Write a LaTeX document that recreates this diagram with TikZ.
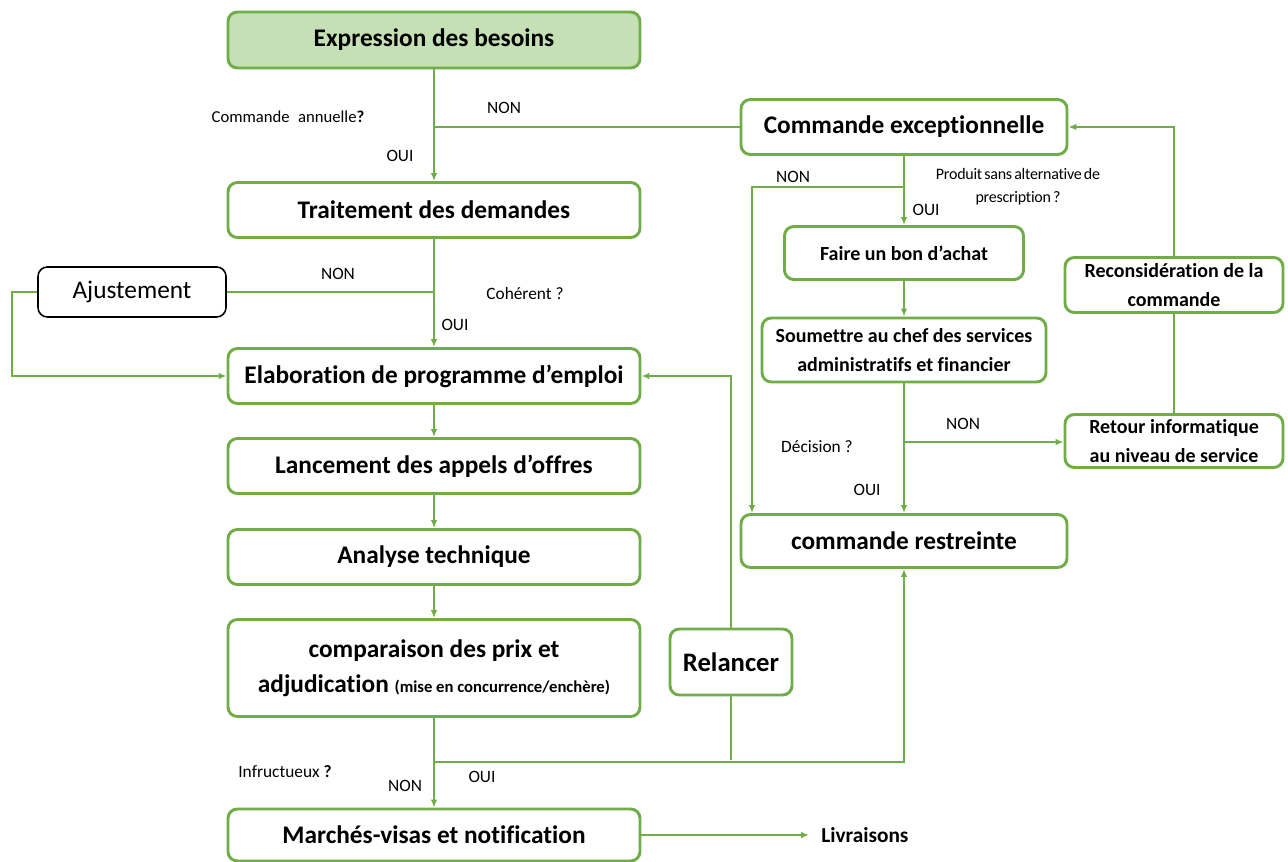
\documentclass[tikz,border=0pt]{standalone}
\usepackage{fontspec}
\setmainfont{Carlito}[Ligatures=NoCommon]
\newfontfamily\tightfont{Carlito}[Ligatures=NoCommon, WordSpace=0.6, LetterSpace=-1.5]
\usetikzlibrary{arrows.meta}
\definecolor{grn}{HTML}{70AD47}
\definecolor{lgrn}{HTML}{C5E0B4}
\begin{document}
\begin{tikzpicture}[x=0.75pt,y=-0.75pt,
  box/.style={draw=grn, line width=2.2pt, rounded corners=7pt, fill=white,
    align=center, inner sep=0pt, font=\bfseries\fontsize{19}{22}\selectfont},
  wide/.style={box, minimum width=309pt, minimum height=41.25pt},
  small/.style={box, font=\bfseries\fontsize{15}{21.5}\selectfont},
  lbl/.style={font=\fontsize{13}{15}\selectfont, inner sep=0pt},
  link/.style={draw=grn, line width=1.5pt},
  arr/.style={link, -{Latex[length=6pt,width=5pt]}}]
\useasboundingbox (0,0) rectangle (1288,862);

% main column
\node[wide, fill=lgrn, minimum height=42pt] (exp) at (434,40) {Expression des besoins};
\node[wide] (tra) at (434,210) {Traitement des demandes};
\node[box, draw=black, line width=1.2pt, font=\fontsize{19}{22}\selectfont,
  minimum width=141pt, minimum height=37.5pt] (aju) at (132,292) {Ajustement};
\node[wide] (ela) at (434,376) {Elaboration de programme d’emploi};
\node[wide] (lan) at (434,466) {Lancement des appels d’offres};
\node[wide] (ana) at (434,557) {Analyse technique};
\node[wide, minimum height=72.75pt] (cmp) at (434,668)
  {comparaison des prix et\\[4pt]adjudication {\fontsize{12.5}{14}\selectfont(mise en concurrence/enchère)}};
\node[wide, minimum height=39pt] (mar) at (434,835) {Marchés-visas et notification};
\node[font=\bfseries\fontsize{16}{18}\selectfont, anchor=west, inner sep=0pt] (liv) at (821,835) {Livraisons};

% right-hand branch
\node[box, minimum width=244.5pt, minimum height=41.25pt] (cex) at (904,127) {Commande exceptionnelle};
\node[small, minimum width=179.25pt, minimum height=39.75pt] (bon) at (904,253) {Faire un bon d’achat};
\node[small, minimum width=213pt, minimum height=48pt] (sou) at (904,350)
  {Soumettre au chef des services\\administratifs et financier};
\node[small, minimum width=163.5pt, minimum height=41.25pt] (rec) at (1174,285)
  {Reconsidération de la\\commande};
\node[small, minimum width=163.5pt, minimum height=39.75pt] (ret) at (1174,441)
  {Retour informatique\\au niveau de service};
\node[box, minimum width=244.5pt, minimum height=39.75pt] (res) at (904,541) {commande restreinte};
\node[box, font=\bfseries\fontsize{20}{22}\selectfont, minimum width=91.5pt, minimum height=49.5pt] (rel) at (731,662) {Relancer};

% junction and bend points
\coordinate (j1) at (434,127);
\coordinate (j2) at (434,292);
\coordinate (j3) at (434,762);
\coordinate (j4) at (904,187);
\coordinate (j5) at (904,442);
\coordinate (k1) at (12,292);
\coordinate (k2) at (12,376);
\coordinate (k3) at (752,187);
\coordinate (k4) at (904,762);
\coordinate (k5) at (731,376);
\coordinate (k6) at (731,760);
\coordinate (k7) at (1174,127);

% main column connectors
\draw[arr] (exp) -- (tra);
\draw[link] (cex.west) -- (j1);
\draw[arr] (tra) -- (ela);
\draw[link] (aju.east) -- (j2);
\draw[arr] (aju.west) -- (k1) -- (k2) -- (ela.west);
\draw[arr] (ela) -- (lan);
\draw[arr] (lan) -- (ana);
\draw[arr] (ana) -- (cmp);
\draw[arr] (cmp) -- (mar);
\draw[arr] (j3) -- (k4) -- (res.south);
\draw[link] (rel.south) -- (k6);
\draw[arr] (rel.north) -- (k5) -- (ela.east);
\draw[arr, shorten >=9pt] (mar.east) -- (mar.east -| liv.west);

% right branch connectors
\draw[arr] (cex) -- (bon);
\draw[arr] (j4) -- (k3) -- (k3 |- res.north);
\draw[arr] (bon) -- (sou);
\draw[arr] (sou) -- (res);
\draw[arr] (j5) -- (ret.west |- j5);
\draw[link] (ret.north) -- (rec.south);
\draw[arr] (rec.north) -- (k7) -- (cex.east);

% decision labels
\node[lbl, font=\fontsize{12.5}{15}\selectfont] (q1) at (288,117) {Commande\enspace annuelle\textbf{?}};
\node[lbl] (n1) at (504,108) {NON};
\node[lbl] (o1) at (400,156) {OUI};
\node[lbl] (n2) at (338,274) {NON};
\node[lbl] (q2) at (525,294) {Cohérent ?};
\node[lbl] (o2) at (455,325) {OUI};
\node[lbl] (n3) at (793,177) {NON};
\node[lbl] (o3) at (926,210) {OUI};
\node[lbl, align=center, font=\tightfont\fontsize{12}{17}\selectfont] (q3) at (1018,187)
  {Produit sans alternative de\\prescription ?};
\node[lbl] (n4) at (963,424) {NON};
\node[lbl] (q4) at (817,447) {Décision ?};
\node[lbl] (o4) at (867,490) {OUI};
\node[lbl] (q5) at (285,772) {Infructueux \textbf{?}};
\node[lbl] (n5) at (405,786) {NON};
\node[lbl] (o5) at (482,777) {OUI};
\end{tikzpicture}
\end{document}
